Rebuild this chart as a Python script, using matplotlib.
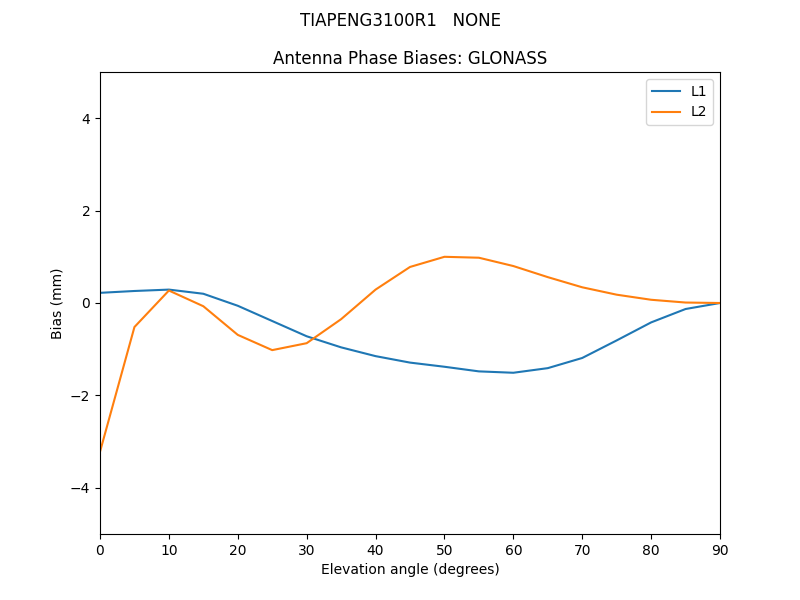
import matplotlib
matplotlib.use("Agg")
import matplotlib.pyplot as plt

# Elevation angles (degrees)
elevation = [0, 5, 10, 15, 20, 25, 30, 35, 40, 45, 50, 55, 60, 65, 70, 75, 80, 85, 90]

# Phase biases (mm)
l1_bias = [0.22, 0.26, 0.29, 0.20, -0.06, -0.39, -0.72, -0.96, -1.15, -1.29,
           -1.38, -1.48, -1.51, -1.41, -1.19, -0.81, -0.42, -0.13, 0.0]
l2_bias = [-3.22, -0.52, 0.27, -0.07, -0.69, -1.02, -0.87, -0.35, 0.29, 0.78,
           1.00, 0.98, 0.80, 0.56, 0.34, 0.18, 0.07, 0.01, 0.0]

fig = plt.figure(figsize=(8, 6), dpi=100)
ax = fig.add_subplot(111)
ax.plot(elevation, l1_bias, label="L1")
ax.plot(elevation, l2_bias, label="L2")
ax.set_xlim(0, 90)
ax.set_ylim(-5, 5)
ax.set_xlabel("Elevation angle (degrees)")
ax.set_ylabel("Bias (mm)")
ax.set_title("Antenna Phase Biases: GLONASS")
fig.suptitle("TIAPENG3100R1   NONE")
ax.legend(loc="upper right")

fig.savefig("out.png")
